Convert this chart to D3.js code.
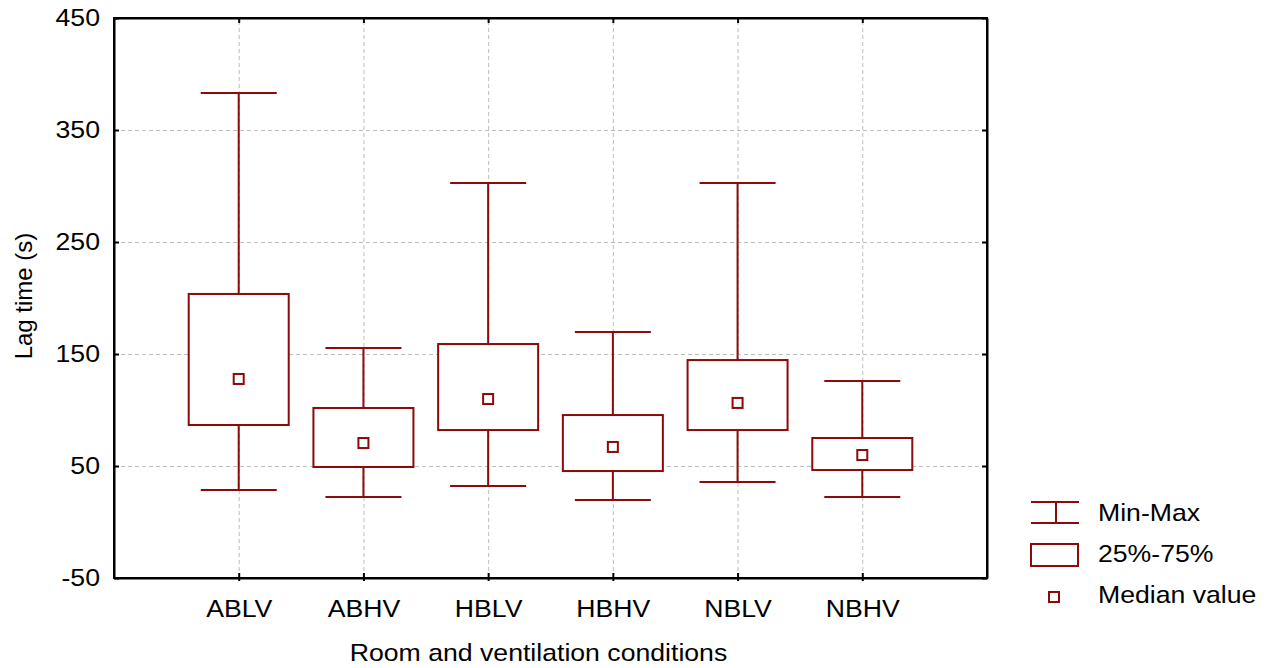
<!DOCTYPE html>
<html>
<head>
<meta charset="utf-8">
<script src="https://cdn.jsdelivr.net/npm/d3@7"></script>
<style>
  body { margin: 0; background: #fff; }
  text { font-family: "Liberation Sans", Arial, sans-serif; fill: #000; }
  .grid line { stroke: #bdbdbd; stroke-dasharray: 4,3; stroke-width: 1; }
  .grid path { display: none; }
</style>
</head>
<body>
<div class="chart"></div>
<script>
// Chart data
var categories = ["ABLV", "ABHV", "HBLV", "HBHV", "NBLV", "NBHV"];
var minValues = [28.6, 22.3, 32.1, 19.6, 35.7, 22.3];
var q1Values = [86.6, 49.1, 82.1, 45.5, 82.1, 46.4];
var medianValues = [127.7, 70.5, 109.8, 67.0, 106.3, 59.8];
var q3Values = [203.6, 101.8, 158.9, 95.5, 144.6, 75.0];
var maxValues = [383.0, 155.4, 302.7, 169.6, 302.7, 125.9];
var yTicks = [-50, 50, 150, 250, 350, 450];
var legendLabels = ["Min-Max", "25%-75%", "Median value"];

var svgWidth = 1277;
var svgHeight = 668;
var margin = { top: 18, right: 290, bottom: 90, left: 114 };
var width = svgWidth - margin.left - margin.right;
var height = svgHeight - margin.top - margin.bottom;
var boxColor = "#8b0a0a";
var fontSize = "24px";
var stretchX = 1.11;  // the reference text is a bit wider than it is tall

var svg = d3.select(".chart")
    .append("svg")
    .attr("width", svgWidth)
    .attr("height", svgHeight);

var chartGroup = svg.append("g")
    .attr("transform", `translate(${margin.left}, ${margin.top})`);

// Widen horizontal text: move x/y into a transform and scale x
function stretch(sel) {
    sel.each(function() {
        var t = d3.select(this);
        var x = +t.attr("x") || 0;
        var y = +t.attr("y") || 0;
        t.attr("x", 0).attr("y", 0)
            .attr("transform", `translate(${x}, ${y}) scale(${stretchX}, 1)`);
    });
}

var rows = categories.map(function(c, i) {
    return { name: c, min: minValues[i], q1: q1Values[i], med: medianValues[i], q3: q3Values[i], max: maxValues[i] };
});

// Scales: categories sit at 1..6 on a 0..7 range
var xScale = d3.scalePoint()
    .domain(categories)
    .range([0, width])
    .padding(1);

var yScale = d3.scaleLinear()
    .domain([-50, 450])
    .range([height, 0]);

// Gridlines
chartGroup.append("g")
    .attr("class", "grid")
    .call(d3.axisLeft(yScale).tickValues(yTicks.slice(1, -1)).tickSize(-width).tickFormat(""));

chartGroup.append("g")
    .attr("class", "grid")
    .attr("transform", `translate(0, ${height})`)
    .call(d3.axisBottom(xScale).tickSize(-height).tickFormat(""));

// Axes with inward ticks
var leftAxis = chartGroup.append("g")
    .call(d3.axisLeft(yScale).tickValues(yTicks).tickFormat(d => String(d))
        .tickSizeInner(-5).tickSizeOuter(0).tickPadding(14));

var rightAxis = chartGroup.append("g")
    .attr("transform", `translate(${width}, 0)`)
    .call(d3.axisRight(yScale).tickValues(yTicks).tickSizeInner(-5).tickSizeOuter(0).tickFormat(""));

var bottomAxis = chartGroup.append("g")
    .attr("transform", `translate(0, ${height})`)
    .call(d3.axisBottom(xScale).tickSizeInner(-5).tickSizeOuter(0).tickPadding(22));

var topAxis = chartGroup.append("g")
    .call(d3.axisTop(xScale).tickSizeInner(-5).tickSizeOuter(0).tickFormat(""));

[leftAxis, rightAxis, bottomAxis, topAxis].forEach(function(ax) {
    ax.selectAll("path").attr("stroke", "#000").attr("stroke-width", 2);
    ax.selectAll("line").attr("stroke", "#000").attr("stroke-width", 2);
    ax.selectAll("text")
        .style("font-size", fontSize)
        .style("font-family", "'Liberation Sans', Arial, sans-serif")
        .attr("fill", "#000")
        .call(stretch);
});
bottomAxis.selectAll("line").attr("y1", 3);

// Frame
chartGroup.append("rect")
    .attr("width", width)
    .attr("height", height)
    .attr("fill", "none")
    .attr("stroke", "#000")
    .attr("stroke-width", 2);

// Box plots
var boxHalf = 50;
var capHalf = 38;
var medSize = 10;

var boxes = chartGroup.selectAll(".box")
    .data(rows)
    .enter()
    .append("g")
    .attr("class", "box")
    .attr("transform", d => `translate(${xScale(d.name)}, 0)`);

boxes.append("line")
    .attr("x1", 0).attr("x2", 0)
    .attr("y1", d => yScale(d.max))
    .attr("y2", d => yScale(d.min))
    .attr("stroke", boxColor)
    .attr("stroke-width", 2);

boxes.append("line")
    .attr("x1", -capHalf).attr("x2", capHalf)
    .attr("y1", d => yScale(d.max))
    .attr("y2", d => yScale(d.max))
    .attr("stroke", boxColor)
    .attr("stroke-width", 2);

boxes.append("line")
    .attr("x1", -capHalf).attr("x2", capHalf)
    .attr("y1", d => yScale(d.min))
    .attr("y2", d => yScale(d.min))
    .attr("stroke", boxColor)
    .attr("stroke-width", 2);

boxes.append("rect")
    .attr("x", -boxHalf)
    .attr("width", boxHalf * 2)
    .attr("y", d => yScale(d.q3))
    .attr("height", d => yScale(d.q1) - yScale(d.q3))
    .attr("fill", "#fff")
    .attr("stroke", boxColor)
    .attr("stroke-width", 2);

boxes.append("rect")
    .attr("x", -medSize / 2)
    .attr("width", medSize)
    .attr("y", d => yScale(d.med) - medSize / 2)
    .attr("height", medSize)
    .attr("fill", "#fff")
    .attr("stroke", boxColor)
    .attr("stroke-width", 2);

// Axis titles
chartGroup.append("text")
    .attr("transform", "rotate(-90)")
    .attr("x", -height / 2 + 2)
    .attr("y", -82)
    .attr("text-anchor", "middle")
    .style("font-size", fontSize)
    .text("Lag time (s)");

chartGroup.append("text")
    .attr("x", width / 2 - 12)
    .attr("y", height + 83)
    .attr("text-anchor", "middle")
    .style("font-size", fontSize)
    .text("Room and ventilation conditions")
    .call(stretch);

// Legend
var legend = svg.append("g")
    .attr("transform", "translate(1031, 0)");

// Min-Max symbol
legend.append("line").attr("x1", 0).attr("x2", 48).attr("y1", 502).attr("y2", 502)
    .attr("stroke", boxColor).attr("stroke-width", 2);
legend.append("line").attr("x1", 0).attr("x2", 48).attr("y1", 523).attr("y2", 523)
    .attr("stroke", boxColor).attr("stroke-width", 2);
legend.append("line").attr("x1", 25).attr("x2", 25).attr("y1", 502).attr("y2", 523)
    .attr("stroke", boxColor).attr("stroke-width", 2);
// Box symbol
legend.append("rect").attr("x", 0).attr("y", 544).attr("width", 47).attr("height", 22)
    .attr("fill", "#fff").attr("stroke", boxColor).attr("stroke-width", 2);
// Median symbol
legend.append("rect").attr("x", 18).attr("y", 592).attr("width", 10).attr("height", 10)
    .attr("fill", "#fff").attr("stroke", boxColor).attr("stroke-width", 2);

legend.selectAll(".legend-label")
    .data(legendLabels)
    .enter()
    .append("text")
    .attr("class", "legend-label")
    .attr("x", 67)
    .attr("y", (d, i) => 521 + i * 41)
    .style("font-size", fontSize)
    .text(d => d)
    .call(stretch);
</script>
</body>
</html>
